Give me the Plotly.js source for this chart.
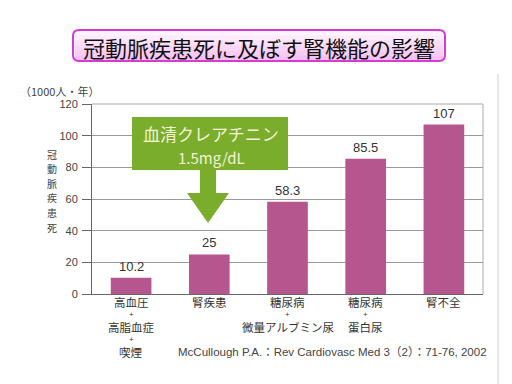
<!DOCTYPE html>
<html><head><meta charset="utf-8">
<script src="https://cdn.plot.ly/plotly-3.0.1.min.js"></script>
<style>html,body{margin:0;padding:0;background:#fff;}#c{width:512px;height:384px;}</style>
</head><body><div id="c"></div>
<script>
const categories = ['c1','c2','c3','c4','c5'];
const categoryLines = [
  ['高血圧','+','高脂血症','+','喫煙'],
  ['腎疾患'],
  ['糖尿病','+','微量アルブミン尿'],
  ['糖尿病','+','蛋白尿'],
  ['腎不全']
];
const values = [10.2, 25, 58.3, 85.5, 107];
const valueLabels = ['10.2','25','58.3','85.5','107'];
const yTicks = [0,20,40,60,80,100,120];

const titleText = '冠動脈疾患死に及ぼす腎機能の影響';
const unitText = '（1000人・年）';
const yTitleChars = ['冠','動','脈','疾','患','死'];
const calloutText = ['血清クレアチニン','1.5mg/dL'];
const citation = 'McCullough P.A.：Rev Cardiovasc Med 3（2）：71-76, 2002';

const JP = '"Noto Sans CJK JP", sans-serif';
const LAT = '"Liberation Sans", Arial, sans-serif';
const AR = '"Liberation Sans", "Noto Sans CJK JP", Arial, sans-serif';

// pixel -> paper helpers (plot area 92..483 x, 104..294 y)
const L=92, R=483, T=104, B=294;
const px = x => (x-L)/(R-L);
const py = y => (B-y)/(B-T);

const shapes = [];
const annotations = [];

// title box with vertical gradient bands
const tx0=73, tx1=445, ty0=30, ty1=61;
const bandCols = ['#fff4ff','#fdeafd','#fbe0fb','#f9d6f8','#f7ccf5','#f5c2f2'];
const bh = (ty1-ty0)/bandCols.length;
bandCols.forEach((c,i)=>{
  shapes.push({type:'rect',xref:'paper',yref:'paper',x0:px(tx0+2),x1:px(tx1-2),
    y0:py(ty0+i*bh),y1:py(ty0+(i+1)*bh+0.5),fillcolor:c,line:{width:0},layer:'above'});
});
const r=6;
const roundPath = `M${px(tx0+r)},${py(ty0)} L${px(tx1-r)},${py(ty0)} Q${px(tx1)},${py(ty0)} ${px(tx1)},${py(ty0+r)} L${px(tx1)},${py(ty1-r)} Q${px(tx1)},${py(ty1)} ${px(tx1-r)},${py(ty1)} L${px(tx0+r)},${py(ty1)} Q${px(tx0)},${py(ty1)} ${px(tx0)},${py(ty1-r)} L${px(tx0)},${py(ty0+r)} Q${px(tx0)},${py(ty0)} ${px(tx0+r)},${py(ty0)} Z`;
shapes.push({type:'path',xref:'paper',yref:'paper',path:roundPath,line:{color:'#d63ad6',width:2},layer:'above'});
annotations.push({xref:'paper',yref:'paper',x:px((tx0+tx1)/2),y:py((ty0+ty1)/2+1),text:titleText,showarrow:false,
  font:{family:JP,size:22,color:'#111'},xanchor:'center',yanchor:'middle'});

// green callout arrow
const pts = [[132,117],[288,117],[288,170],[216,170],[216,193],[229,193],[208,223],[187,193],[200,193],[200,170],[132,170]];
const arrowPath = 'M' + pts.map(p=>px(p[0])+','+py(p[1])).join(' L') + ' Z';
shapes.push({type:'path',xref:'paper',yref:'paper',path:arrowPath,fillcolor:'#79ad2b',line:{width:0},layer:'above'});
annotations.push({xref:'paper',yref:'paper',x:px(211),y:py(133),text:calloutText[0],showarrow:false,
  font:{family:JP,size:17,color:'#f6f2d6'},xanchor:'center',yanchor:'middle'});
annotations.push({xref:'paper',yref:'paper',x:px(211),y:py(157),text:calloutText[1],showarrow:false,
  font:{family:JP,size:15,color:'#f6f2d6'},xanchor:'center',yanchor:'middle'});

// right grey separator line
shapes.push({type:'line',xref:'paper',yref:'paper',x0:px(498),x1:px(498),y0:py(74),y1:py(384),line:{color:'#cfcfcf',width:1}});

// category labels, one annotation per line
categoryLines.forEach((lines,ci)=>{
  lines.forEach((t,li)=>{
    const plus = t==='+';
    annotations.push({x:categories[ci],xref:'x',yref:'paper',y:0,yanchor:'middle',xanchor:'center',
      yshift:-(8+li*12.5),text:t,showarrow:false,borderpad:0,
      font:{family:plus?LAT:JP,size:plus?8:11.5,color:'#333'}});
  });
});

// value labels
values.forEach((v,i)=>{
  annotations.push({x:categories[i],y:v,xref:'x',yref:'y',text:valueLabels[i],showarrow:false,
    yanchor:'bottom',yshift:2,font:{family:LAT,size:13,color:'#333'}});
});

// unit, vertical y title (one char per annotation), citation
annotations.push({xref:'paper',yref:'paper',x:px(18),y:py(91),text:unitText,showarrow:false,xanchor:'left',yanchor:'middle',
  font:{family:JP,size:11,color:'#444'}});
yTitleChars.forEach((ch,i)=>{
  annotations.push({xref:'paper',yref:'paper',x:px(52),y:py(154+i*14.6),text:ch,showarrow:false,xanchor:'center',yanchor:'middle',
    borderpad:0,font:{family:JP,size:10,color:'#444'}});
});
annotations.push({xref:'paper',yref:'paper',x:px(176),y:py(352),text:citation,showarrow:false,xanchor:'left',yanchor:'middle',
  font:{family:AR,size:11.5,color:'#444'}});

const trace = {
  type:'bar', x:categories, y:values,
  marker:{color:'#b5568f',line:{width:0}},
  hoverinfo:'none'
};

const layout = {
  width:512, height:384,
  margin:{l:L, r:512-R, t:T, b:384-B, pad:0},
  paper_bgcolor:'#fff', plot_bgcolor:'#fff',
  showlegend:false, bargap:0.48,
  xaxis:{showticklabels:false, ticks:'', showgrid:false, showline:true, linecolor:'#666', linewidth:1,
    mirror:false, fixedrange:true, zeroline:false},
  yaxis:{range:[0,120], tickvals:yTicks, ticktext:yTicks.map(String), ticks:'outside', ticklen:9, tickcolor:'#666',
    showline:true, linecolor:'#666', linewidth:1, showgrid:true, gridcolor:'#9a9a9a', gridwidth:1,
    zeroline:false, tickfont:{family:LAT,size:11,color:'#444'}, ticklabelstandoff:2},
  shapes:[
    {type:'line',xref:'paper',yref:'paper',x0:0,x1:1,y0:1,y1:1,line:{color:'#aaa',width:1}},
    {type:'line',xref:'paper',yref:'paper',x0:1,x1:1,y0:0,y1:1,line:{color:'#aaa',width:1}}
  ].concat(shapes),
  annotations:annotations
};

Plotly.newPlot('c',[trace],layout,{staticPlot:true,displayModeBar:false});
</script></body></html>
